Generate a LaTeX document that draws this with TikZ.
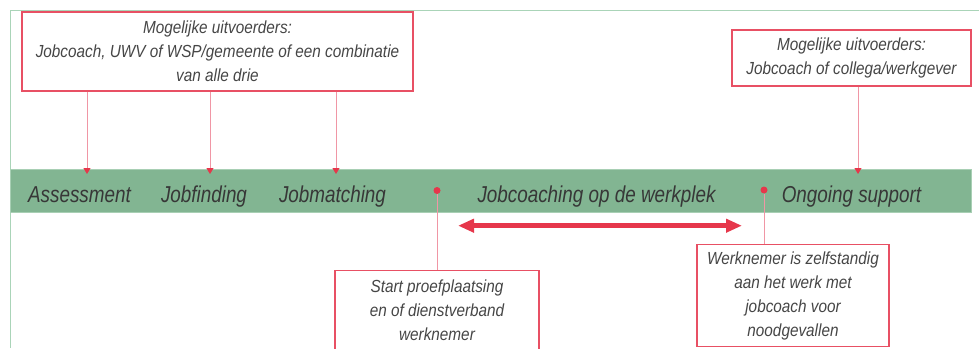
\documentclass[tikz,border=0pt]{standalone}
\usepackage{fontspec}
\newfontfamily\boxfont[FakeStretch=0.875]{Liberation Sans}
\newfontfamily\bandfont[FakeStretch=0.82]{Liberation Sans}
\usetikzlibrary{arrows.meta}
\definecolor{bandgreen}{RGB}{130,181,146}
\definecolor{bandedge}{RGB}{168,207,180}
\definecolor{framegreen}{RGB}{170,212,184}
\definecolor{boxred}{RGB}{232,80,100}
\definecolor{linkpink}{RGB}{240,150,165}
\definecolor{arrowred}{RGB}{230,55,75}
\definecolor{txt}{RGB}{70,70,70}
\definecolor{bandtxt}{RGB}{55,55,55}
\begin{document}
\begin{tikzpicture}[x=1pt,y=-1pt,
 box/.style={draw=boxred,line width=1.1pt,fill=white,align=center,text=txt,inner sep=0pt,
   font=\boxfont\itshape\fontsize{17.5}{24}\selectfont},
 bandlabel/.style={anchor=base,text=bandtxt,inner sep=0pt,
   font=\bandfont\itshape\fontsize{23}{26}\selectfont},
 link/.style={draw=linkpink,line width=1pt},
 linkarrow/.style={link,-{Triangle[length=6pt,width=7pt,color=arrowred]}},
 reddot/.style={circle,fill=arrowred,inner sep=0pt,minimum size=7pt},
 bigarrow/.style={draw=arrowred,line width=4.5pt,
   {Triangle[length=16pt,width=13pt]}-{Triangle[length=16pt,width=13pt]}}
]
\useasboundingbox (0,0) rectangle (979,348);
\draw[framegreen,line width=1pt] (979,10) -- (10,10) -- (10,348);

\node[draw=bandedge,fill=bandgreen,line width=1pt,minimum width=961pt,minimum height=43pt,inner sep=0pt] (band) at (490.5,190.5) {};

\node[bandlabel] (l1) at (79.5,202.5) {Assessment};
\node[bandlabel] (l2) at (204,202.5) {Jobfinding};
\node[bandlabel] (l3) at (332.5,202.5) {Jobmatching};
\node[bandlabel] (l4) at (596.5,202.5) {Jobcoaching op de werkplek};
\node[bandlabel] (l5) at (851.5,202.5) {Ongoing support};

\node[box,minimum width=391pt,minimum height=79pt] (b1) at (217.5,51.5)
  {Mogelijke uitvoerders:\\Jobcoach, UWV of WSP/gemeente of een combinatie\\van alle drie};
\node[box,minimum width=239pt,minimum height=56pt] (b2) at (851.5,58)
  {Mogelijke uitvoerders:\\Jobcoach of collega/werkgever};
\node[box,minimum width=204pt,minimum height=79pt] (b3) at (437,310.3)
  {Start proefplaatsing\\en of dienstverband\\werknemer};
\node[box,minimum width=192pt,minimum height=102pt] (b4) at (793,295.7)
  {Werknemer is zelfstandig\\aan het werk met\\jobcoach voor\\noodgevallen};

\coordinate (t1) at (87,174);
\coordinate (t2) at (210,174);
\coordinate (t3) at (336,174);
\coordinate (t4) at (858,174);
\draw[linkarrow] (b1.south -| t1) -- (t1);
\draw[linkarrow] (b1.south -| t2) -- (t2);
\draw[linkarrow] (b1.south -| t3) -- (t3);
\draw[linkarrow] (b2.south -| t4) -- (t4);

\node[reddot] (d1) at (437,190.5) {};
\node[reddot] (d2) at (764,190) {};
\draw[link] (d1) -- (b3.north);
\draw[link] (d2) -- (d2 |- b4.north);

\coordinate (a1) at (458,225.7);
\coordinate (a2) at (742,225.7);
\draw[bigarrow] (a1) -- (a2);
\end{tikzpicture}
\end{document}
